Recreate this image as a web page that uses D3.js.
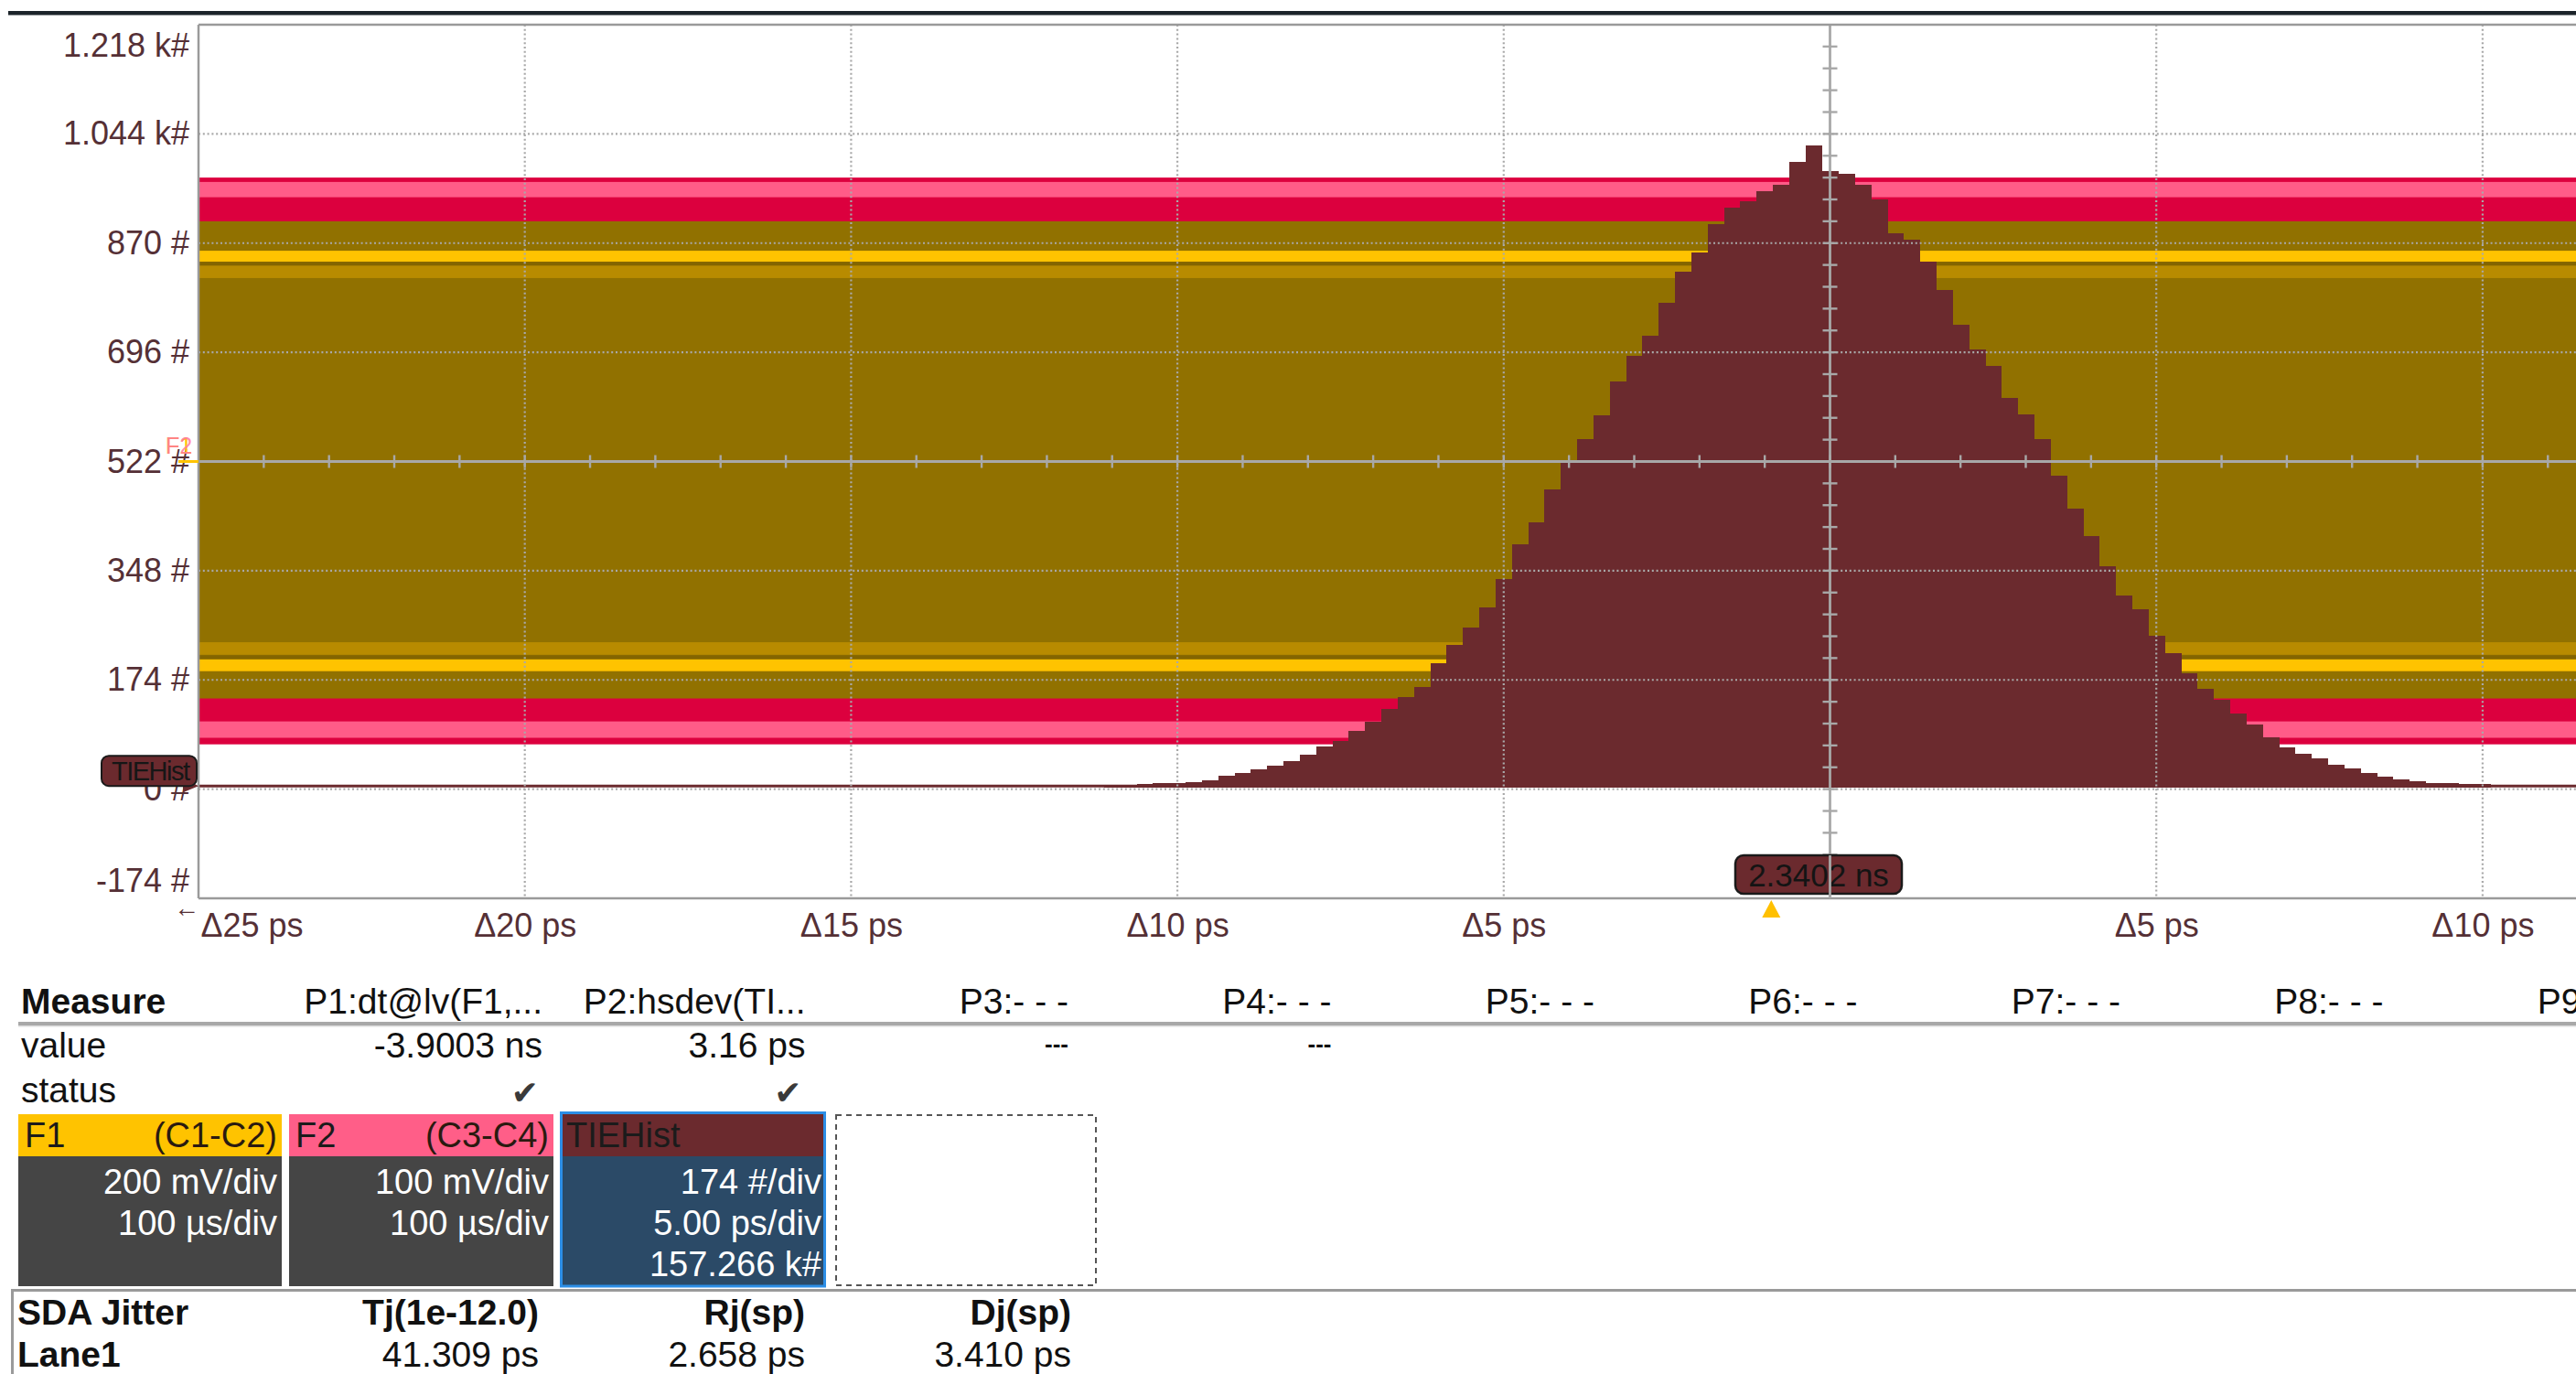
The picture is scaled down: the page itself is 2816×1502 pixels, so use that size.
<!DOCTYPE html>
<html>
<head>
<meta charset="utf-8">
<script src="https://cdn.jsdelivr.net/npm/d3@7"></script>
<style>
  html, body { margin: 0; padding: 0; background: #fff; }
  svg { display: block; font-family: "Liberation Sans", Arial, sans-serif; }
</style>
</head>
<body>
<svg id="chart" width="2816" height="1502"></svg>
<script>
// ---------- data ----------
// TIE histogram: bin centres (ps, 0.25 ps bins) and counts per bin
const binWidthPs = 0.25;
const binCenters = d3.range(-11, 10.001, binWidthPs);
const binCounts = [
  2, 2, 3, 4, 4, 6, 9, 16, 21, 26, 33, 39, 50, 63, 71, 88, 102, 122, 142, 158,
  195, 225, 252, 285, 330, 385, 420, 472, 515, 552, 590, 645, 685, 718, 770, 820,
  850, 895, 922, 932, 948, 958, 995, 1020,
  980, 975, 958, 935, 880, 870, 835, 790, 735, 695, 670, 618, 592, 552, 495, 442,
  398, 350, 303, 282, 240, 212, 180, 155, 138, 115, 98, 77, 61, 51, 44, 34, 28,
  21, 15, 11, 7, 5, 4, 3, 3
];
const histTraceOffset = 5;            // counts, vertical offset of the TIEHist trace

// persistence bands of the math traces (mV): [low, high, layer]
const f2Bands = [[-259, 260, "core"], [242, 256, "edge"], [-253, -238, "edge"]];
const f1Bands = [
  [-434, 440, "core"],
  [336, 359, "halo"], [359, 366, "shade"], [366, 386, "edge"],
  [-384, -362, "edge"], [-362, -355, "shade"], [-354, -331, "halo"]
];
const f1mVperDiv = 200, f2mVperDiv = 100;

// axes
const yTickValues = [-174, 0, 174, 348, 522, 696, 870, 1044, 1218];
const yTickLabels = ["-174 #", "0 #", "174 #", "348 #", "522 #", "696 #", "870 #", "1.044 k#", "1.218 k#"];
const xTickValues = [-25, -20, -15, -10, -5, 5, 10];
const xTickLabels = ["Δ25 ps", "Δ20 ps", "Δ15 ps", "Δ10 ps", "Δ5 ps", "Δ5 ps", "Δ10 ps"];
const cursorLabel = "2.3402 ns";
const cursorPs = -0.9;

// measurement table
const measureHeaders = ["P1:dt@lv(F1,...", "P2:hsdev(TI...", "P3:- - -", "P4:- - -", "P5:- - -", "P6:- - -", "P7:- - -", "P8:- - -", "P9:- - -"];
const measureValues = ["-3.9003 ns", "3.16 ps", "---", "---", "", "", "", "", ""];
const measureStatus = [true, true, false, false, false, false, false, false, false];

// trace descriptors
const traceNames = ["F1", "F2", "TIEHist"];
const traceSources = ["(C1-C2)", "(C3-C4)", ""];
const traceLines = [["200 mV/div", "100 µs/div"], ["100 mV/div", "100 µs/div"], ["174 #/div", "5.00 ps/div", "157.266 k#"]];

// jitter summary
const jitterHeader = ["SDA Jitter", "Tj(1e-12.0)", "Rj(sp)", "Dj(sp)"];
const jitterRow = ["Lane1", "41.309 ps", "2.658 ps", "3.410 ps"];

// ---------- layout & style ----------
const W = 2816, H = 1502;
const P = { left: 217, top: 27, bottom: 982, divX: 356.7 };
const C = {
  hist: "#6b2a2e", red: "#dc003e", pink: "#ff5c88", olive: "#917100",
  halo: "#b88b00", shade: "#836500", yellow: "#ffc300", grid: "#a9a9a9",
  axisText: "#553036", frame: "#9a9a9a"
};
const bandColor = {
  f2: { core: C.red, edge: C.pink },
  f1: { core: C.olive, halo: C.halo, shade: C.shade, edge: C.yellow }
};

const svg = d3.select("#chart");
svg.append("rect").attr("width", W).attr("height", H).attr("fill", "#fff");

const x = d3.scaleLinear().domain([-25, 25]).range([P.left, P.left + 10 * P.divX]);
const y = d3.scaleLinear().domain([-174, 1218]).range([P.bottom, P.top]);
const yF1 = d3.scaleLinear().domain([-4 * f1mVperDiv, 4 * f1mVperDiv]).range([P.bottom, P.top]);
const yF2 = d3.scaleLinear().domain([-4 * f2mVperDiv, 4 * f2mVperDiv]).range([P.bottom, P.top]);

// top bar
svg.append("rect").attr("x", 9).attr("y", 12).attr("width", W).attr("height", 4.5).attr("fill", "#1c242a");

svg.append("defs").append("clipPath").attr("id", "plotClip")
  .append("rect").attr("x", P.left).attr("y", P.top).attr("width", W - P.left).attr("height", P.bottom - P.top);
const plot = svg.append("g").attr("clip-path", "url(#plotClip)");

// F2 then F1 persistence bands
plot.append("g").selectAll("rect").data(f2Bands).join("rect")
  .attr("x", P.left).attr("width", W - P.left)
  .attr("y", d => yF2(d[1])).attr("height", d => yF2(d[0]) - yF2(d[1]))
  .attr("fill", d => bandColor.f2[d[2]]);
plot.append("g").selectAll("rect").data(f1Bands).join("rect")
  .attr("x", P.left).attr("width", W - P.left)
  .attr("y", d => yF1(d[1])).attr("height", d => yF1(d[0]) - yF1(d[1]))
  .attr("fill", d => bandColor.f1[d[2]]);

// TIE histogram trace: baseline + bins
const yBase = y(histTraceOffset);
plot.append("line").attr("x1", P.left).attr("x2", W).attr("y1", yBase).attr("y2", yBase)
  .attr("stroke", C.hist).attr("stroke-width", 3);
const binPx = x(binWidthPs) - x(0);
plot.append("g").attr("shape-rendering", "crispEdges").selectAll("rect")
  .data(binCenters.map((c, i) => ({ c, v: binCounts[i] })))
  .join("rect")
  .attr("x", d => x(d.c - binWidthPs / 2))
  .attr("width", binPx + 0.6)
  .attr("y", d => y(d.v + histTraceOffset))
  .attr("height", d => yBase - y(d.v + histTraceOffset) + 1.5)
  .attr("fill", C.hist);

// dotted grid
const gridX = d3.range(-20, 25, 5).filter(v => v !== 0);
const gridY = yTickValues.filter(v => v !== -174 && v !== 1218 && v !== 522);
plot.append("g").selectAll("line").data(gridX).join("line")
  .attr("x1", d => x(d)).attr("x2", d => x(d)).attr("y1", P.top).attr("y2", P.bottom)
  .attr("stroke", C.grid).attr("stroke-width", 2.2).attr("stroke-dasharray", "2,2.8");
plot.append("g").selectAll("line").data(gridY).join("line")
  .attr("x1", P.left).attr("x2", W).attr("y1", d => y(d)).attr("y2", d => y(d))
  .attr("stroke", C.grid).attr("stroke-width", 2.2).attr("stroke-dasharray", "2,2.8");

// centre cross with minor ticks
const cx = x(0), cy = y(522);
const cross = plot.append("g").attr("stroke", "#a8a8a8");
cross.append("line").attr("x1", P.left).attr("x2", W).attr("y1", cy).attr("y2", cy).attr("stroke-width", 2.8);
cross.append("line").attr("x1", cx).attr("x2", cx).attr("y1", P.top).attr("y2", P.bottom).attr("stroke-width", 2.8);
cross.selectAll(".tx").data(d3.range(-24, 25, 1)).join("line").attr("class", "tx")
  .attr("x1", d => x(d)).attr("x2", d => x(d)).attr("y1", cy - 7).attr("y2", cy + 7).attr("stroke-width", 2.4);
cross.selectAll(".ty").data(d3.range(1, 40).map(k => -174 + k * 34.8)).join("line").attr("class", "ty")
  .attr("x1", cx - 8).attr("x2", cx + 8).attr("y1", d => y(d)).attr("y2", d => y(d)).attr("stroke-width", 2.4);

// frame
const frame = svg.append("g").attr("stroke", C.frame).attr("stroke-width", 2.5);
frame.append("line").attr("x1", P.left).attr("x2", P.left).attr("y1", P.top).attr("y2", P.bottom);
frame.append("line").attr("x1", P.left).attr("x2", W).attr("y1", P.top).attr("y2", P.top);
frame.append("line").attr("x1", P.left).attr("x2", W).attr("y1", P.bottom).attr("y2", P.bottom);

// y axis
const yAxis = svg.append("g").attr("transform", `translate(${P.left},0)`)
  .call(d3.axisLeft(y).tickValues(yTickValues).tickFormat((d, i) => yTickLabels[i]).tickSize(0).tickPadding(10));
yAxis.select(".domain").remove();
yAxis.selectAll("text").attr("font-size", 36).attr("fill", C.axisText)
  .attr("font-family", '"Liberation Sans", Arial, sans-serif')
  .attr("y", d => { const py = y(d); return Math.max(P.top + 23, Math.min(P.bottom - 19, py)) - py; });

// x axis
const xAxis = svg.append("g").attr("transform", `translate(0,${P.bottom})`)
  .call(d3.axisBottom(x).tickValues(xTickValues).tickFormat((d, i) => xTickLabels[i]).tickSize(0).tickPadding(16));
xAxis.select(".domain").remove();
xAxis.selectAll("text").attr("font-size", 36).attr("fill", C.axisText)
  .attr("font-family", '"Liberation Sans", Arial, sans-serif')
  .attr("text-anchor", d => d === -25 ? "start" : "middle")
  .attr("x", d => d === -25 ? 2 : 0);
svg.append("text").attr("x", P.left + 1).attr("y", 1002).attr("text-anchor", "end")
  .attr("font-size", 28).attr("fill", C.axisText).text("←");

// trace markers on the left edge
svg.append("text").attr("x", 181).attr("y", 496).attr("font-size", 25).attr("fill", C.yellow).text("F1");
svg.append("text").attr("x", 181).attr("y", 496).attr("font-size", 25).attr("fill", "#ff7a9c").attr("opacity", 0.85).text("F2");
svg.append("line").attr("x1", 195).attr("x2", P.left).attr("y1", cy).attr("y2", cy)
  .attr("stroke", C.yellow).attr("stroke-width", 3);

// TIEHist ground marker
const gm = svg.append("g");
gm.append("path").attr("d", `M200,${yBase - 9}L${P.left},${yBase}L200,${yBase + 7}Z`).attr("fill", C.hist);
gm.append("rect").attr("x", 111).attr("y", yBase - 33).attr("width", 104).attr("height", 33).attr("rx", 8)
  .attr("fill", C.hist).attr("stroke", "#1a1a1a").attr("stroke-width", 2);
gm.append("text").attr("x", 122).attr("y", yBase - 6).attr("font-size", 29).attr("fill", "#161616")
  .attr("letter-spacing", -1.5).text("TIEHist");

// cursor readout
const cg = svg.append("g");
cg.append("rect").attr("x", 1897).attr("y", 935).attr("width", 182).attr("height", 42).attr("rx", 9)
  .attr("fill", C.hist).attr("stroke", "#1a1a1a").attr("stroke-width", 2.5);
cg.append("text").attr("x", 1988).attr("y", 969).attr("text-anchor", "middle").attr("font-size", 35)
  .attr("fill", "#141414").text(cursorLabel);
cg.append("line").attr("x1", cx).attr("x2", cx).attr("y1", 935).attr("y2", P.bottom)
  .attr("stroke", "#a8a8a8").attr("stroke-width", 2.8);
const tX = x(cursorPs);
cg.append("path").attr("d", `M${tX},984L${tX - 10},1003L${tX + 10},1003Z`).attr("fill", "#ffc000");

// ---------- measurement table ----------
const tf = 39;
const colRight = i => 593 + 287.5 * i;
const mt = svg.append("g").attr("font-size", tf).attr("fill", "#111");
mt.append("text").attr("x", 23).attr("y", 1108).attr("font-weight", "bold").text("Measure");
mt.append("text").attr("x", 23).attr("y", 1156).text("value");
mt.append("text").attr("x", 23).attr("y", 1205).text("status");
mt.selectAll(".hdr").data(measureHeaders).join("text").attr("class", "hdr")
  .attr("x", (d, i) => colRight(i)).attr("y", 1108).attr("text-anchor", "end").text(d => d);
mt.selectAll(".val").data(measureValues).join("text").attr("class", "val")
  .attr("x", (d, i) => colRight(i)).attr("y", d => d === "---" ? 1150 : 1156).attr("text-anchor", "end")
  .attr("font-size", d => d === "---" ? 26 : tf).attr("font-weight", d => d === "---" ? "bold" : null).text(d => d);
mt.selectAll(".st").data(measureStatus).join("text").attr("class", "st")
  .attr("x", (d, i) => colRight(i) - 4).attr("y", 1207).attr("text-anchor", "end")
  .attr("font-family", '"DejaVu Sans", sans-serif').attr("font-size", 36).attr("fill", "#3a3a3a")
  .text(d => d ? "✔" : "");
svg.append("rect").attr("x", 20).attr("y", 1117).attr("width", W - 20).attr("height", 4).attr("fill", "#a8a8a8");
svg.append("rect").attr("x", 20).attr("y", 1121).attr("width", W - 20).attr("height", 1.5).attr("fill", "#dcdcdc");

// ---------- trace descriptor boxes ----------
const boxX = [20, 316, 612], boxW = [288, 289, 291];
const boxTop = 1218, boxHead = 46, boxBottom = 1406;
const headFill = [C.yellow, "#ff5e88", C.hist];
const bodyFill = ["#454545", "#454545", "#2b4a67"];
const desc = svg.append("g");
traceNames.forEach((name, i) => {
  const g = desc.append("g");
  g.append("rect").attr("x", boxX[i]).attr("y", boxTop).attr("width", boxW[i]).attr("height", boxBottom - boxTop)
    .attr("fill", bodyFill[i]);
  g.append("rect").attr("x", boxX[i]).attr("y", boxTop).attr("width", boxW[i]).attr("height", boxHead)
    .attr("fill", headFill[i]);
  if (i === 2) {
    g.append("rect").attr("x", boxX[i] + 1.5).attr("y", boxTop - 1.5).attr("width", boxW[i] - 3).attr("height", boxBottom - boxTop + 1.5)
      .attr("fill", "none").attr("stroke", "#2c8ee6").attr("stroke-width", 3);
  }
  g.append("text").attr("x", boxX[i] + 7).attr("y", boxTop + 36).attr("font-size", 38).attr("fill", "#1b1b1b").text(name);
  g.append("text").attr("x", boxX[i] + boxW[i] - 5).attr("y", boxTop + 36).attr("text-anchor", "end")
    .attr("font-size", 38).attr("fill", "#2a1a10").text(traceSources[i]);
  g.selectAll(".ln").data(traceLines[i]).join("text").attr("class", "ln")
    .attr("x", boxX[i] + boxW[i] - 5).attr("y", (d, k) => 1305 + 45 * k).attr("text-anchor", "end")
    .attr("font-size", 38).attr("fill", "#fff").text(d => d);
});
desc.append("rect").attr("x", 914).attr("y", 1219).attr("width", 284).attr("height", 186)
  .attr("fill", "none").attr("stroke", "#555").attr("stroke-width", 2).attr("stroke-dasharray", "6,5");

// ---------- jitter summary ----------
svg.append("rect").attr("x", 12).attr("y", 1409).attr("width", W - 12).attr("height", 3).attr("fill", "#9a9a9a");
svg.append("rect").attr("x", 12).attr("y", 1409).attr("width", 3).attr("height", H - 1409).attr("fill", "#9a9a9a");
const jt = svg.append("g").attr("font-size", tf).attr("fill", "#111");
const jitRight = [null, 589, 880, 1171];
jt.selectAll(".jh").data(jitterHeader).join("text").attr("class", "jh")
  .attr("x", (d, i) => i === 0 ? 19 : jitRight[i]).attr("y", 1448)
  .attr("text-anchor", (d, i) => i === 0 ? "start" : "end").attr("font-weight", "bold").text(d => d);
jt.selectAll(".jr").data(jitterRow).join("text").attr("class", "jr")
  .attr("x", (d, i) => i === 0 ? 19 : jitRight[i]).attr("y", 1494)
  .attr("text-anchor", (d, i) => i === 0 ? "start" : "end").attr("font-weight", (d, i) => i === 0 ? "bold" : null).text(d => d);
</script>
</body>
</html>
